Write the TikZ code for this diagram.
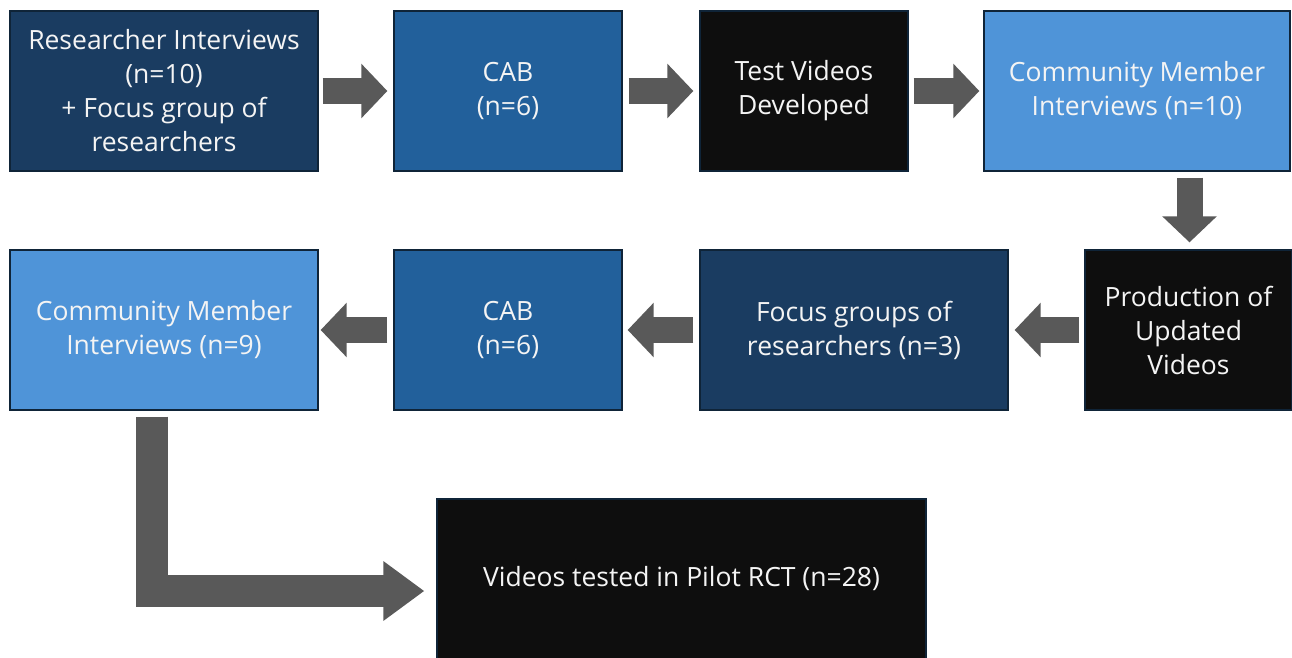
\documentclass[tikz,border=0pt]{standalone}
\usepackage{fontspec}
\setmainfont{Open Sans}
\usetikzlibrary{arrows.meta,calc}
\definecolor{navy}{HTML}{1A3C61}
\definecolor{midblue}{HTML}{22609B}
\definecolor{lightblue}{HTML}{4F94D8}
\definecolor{ink}{HTML}{0E0E0E}
\definecolor{arrowgray}{HTML}{595959}
\definecolor{edge}{HTML}{0F2438}
\definecolor{label}{HTML}{F4F4F4}
\begin{document}
\begin{tikzpicture}[x=1pt,y=-1pt,
  box/.style={draw=edge, line width=1.3pt, inner sep=0pt, align=center,
    text=label, font=\fontsize{26.5}{34}\selectfont},
  wide/.style={minimum width=308pt, minimum height=160pt},
  narrow/.style={minimum width=228pt, minimum height=160pt},
  slim/.style={minimum width=208pt, minimum height=160pt},
  flow/.style={draw=arrowgray, line width=26pt,
    -{Triangle[length=26pt,width=53pt,color=arrowgray]}},
  bigflow/.style={draw=arrowgray, line width=32pt, line join=miter,
    -{Triangle[length=41pt,width=57pt,color=arrowgray]}}]
\useasboundingbox (0,0) rectangle (1292,658);

% first row
\node[box, wide, fill=navy] (b1) at (164,91)
  {Researcher Interviews\\(n=10)\\+ Focus group of\\researchers};
\node[box, narrow, fill=midblue] (b2) at (508,91) {CAB\\(n=6)};
\node[box, slim, fill=ink] (b3) at (804,91) {Test Videos\\Developed};
\node[box, minimum width=306pt, minimum height=160pt, fill=lightblue] (b4) at (1137,91)
  {Community Member\\Interviews (n=10)};

% second row
\node[box, slim, minimum width=207pt, fill=ink] (b8) at (1188.5,330)
  {Production of\\Updated\\Videos};
\node[box, wide, fill=navy] (b7) at (854,330) {Focus groups of\\researchers (n=3)};
\node[box, narrow, fill=midblue] (b6) at (508,330) {CAB\\(n=6)};
\node[box, wide, fill=lightblue] (b5) at (164,330) {Community Member\\Interviews (n=9)};

% final step
\node[box, minimum width=489pt, minimum height=160pt, fill=ink] (b9) at (681.5,579)
  {Videos tested in Pilot RCT (n=28)};

% connectors
\draw[flow] ($(b1.east)+(4,0)$) -- ($(b2.west)+(-6,0)$);
\draw[flow] ($(b2.east)+(6,0)$) -- ($(b3.west)+(-6,0)$);
\draw[flow] ($(b3.east)+(5,0)$) -- ($(b4.west)+(-4,0)$);
\draw[flow] ($(b4.south -| b8.north)+(1,6)$) -- ($(b8.north)+(1,-7)$);
\draw[flow] ($(b8.west)+(-5,0)$) -- ($(b7.east)+(6,0)$);
\draw[flow] ($(b7.west)+(-6,0)$) -- ($(b6.east)+(5,0)$);
\draw[flow] ($(b6.west)+(-6,0)$) -- ($(b5.east)+(2,0)$);
\draw[bigflow] ($(b5.south)+(-12,6)$) |- ($(b9.west)+(-12,12)$);
\end{tikzpicture}
\end{document}
